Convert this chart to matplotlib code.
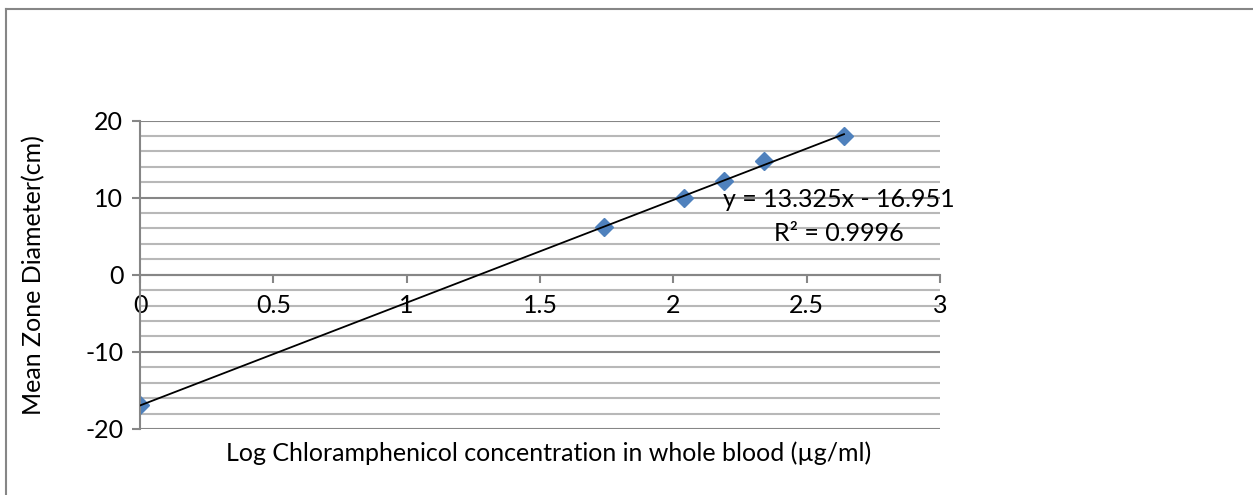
import matplotlib.pyplot as plt
from matplotlib.lines import Line2D
import numpy as np

# data
log_conc = [0.0, 1.74, 2.04, 2.19, 2.34, 2.64]
zone_diam = [-16.95, 6.2, 10.0, 12.2, 14.8, 18.05]
slope = 13.325
intercept = -16.951
r2 = 0.9996
xticks = [0, 0.5, 1, 1.5, 2, 2.5, 3]
yticks = [-20, -10, 0, 10, 20]

plt.rcParams['font.family'] = ['Lato', 'DejaVu Sans']
plt.rcParams['axes.unicode_minus'] = False
FS = 18

W, H = 1253, 495
fig = plt.figure(figsize=(W / 100, H / 100), dpi=100)
ax = fig.add_axes([140 / W, (H - 429) / H, 800 / W, (429 - 120.5) / H])

ax.set_xlim(0, 3)
ax.set_ylim(-20, 20)

# gridlines: minor every 2, major every 10
for yv in np.arange(-20, 21, 2):
    major = yv % 10 == 0
    ax.axhline(yv, color='#868686' if major else '#b8b8b8', lw=1.5, zorder=0)

ax.spines['top'].set_visible(False)
ax.spines['right'].set_visible(False)
ax.spines['bottom'].set_position(('data', 0))
ax.spines['bottom'].set_color('#868686')
ax.spines['left'].set_color('#868686')
ax.spines['bottom'].set_linewidth(1.5)
ax.spines['left'].set_linewidth(1.5)

ax.set_xticks(xticks)
ax.set_xticklabels([str(t) for t in xticks])
ax.set_yticks(yticks)
ax.tick_params(axis='both', colors='#868686', labelcolor='black', labelsize=FS,
               length=6, width=1.5)
ax.tick_params(axis='x', pad=8)
ax.tick_params(axis='y', pad=6)

xfit = np.array([0, max(log_conc)])
ax.plot(xfit, slope * xfit + intercept, color='black', lw=1.3, zorder=3)
ax.plot(log_conc, zone_diam, 'D', color='#4f81bd', ms=9.5, mec='#4f81bd', zorder=2)

ax.text(0.874, 0.689, f'y = {slope}x - {-intercept}\nR² = {r2}', transform=ax.transAxes,
        ha='center', va='center', fontsize=FS, linespacing=1.6)

fig.text(549 / W, 1 - 453 / H, 'Log Chloramphenicol concentration in whole blood (µg/ml)',
         ha='center', va='center', fontsize=FS)
fig.text(34 / W, 1 - 275 / H, 'Mean Zone Diameter(cm)', rotation=90,
         ha='center', va='center', fontsize=FS)

# chart area border
fig.add_artist(Line2D([6 / W, 6 / W], [0, 1 - 8.5 / H], transform=fig.transFigure,
                      color='#868686', lw=1.5))
fig.add_artist(Line2D([6 / W, 1], [1 - 8.5 / H, 1 - 8.5 / H], transform=fig.transFigure,
                      color='#868686', lw=1.5))

fig.savefig('out.png', dpi=100)
